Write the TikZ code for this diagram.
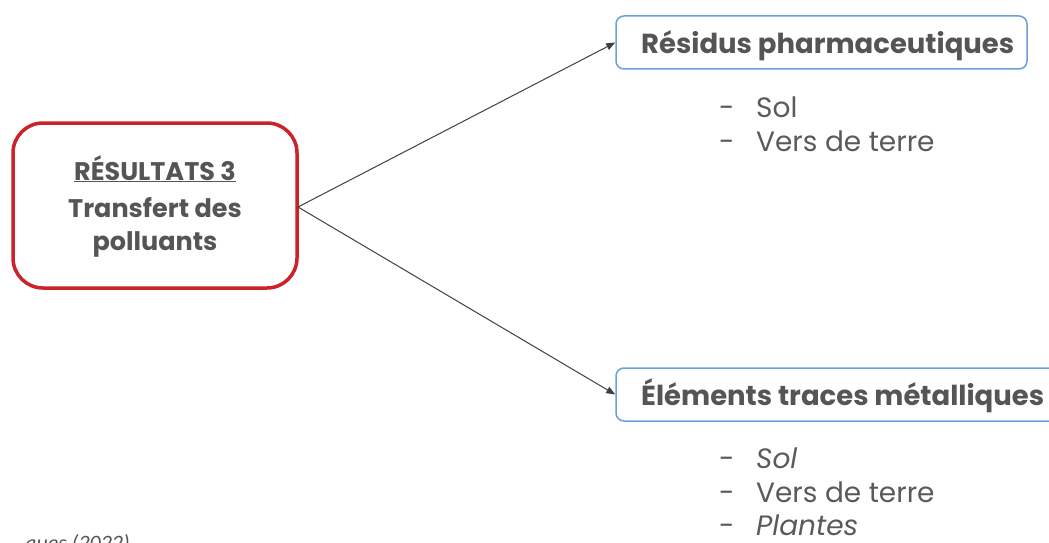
\documentclass[tikz,border=0pt]{standalone}
\usepackage{fontspec}
\setmainfont{Poppins}
\newfontfamily\notefont{Carlito}
\usetikzlibrary{arrows.meta}
\definecolor{txtgray}{HTML}{555555}
\definecolor{bulgray}{HTML}{5A5A5A}
\definecolor{boxred}{HTML}{CC2229}
\definecolor{boxblue}{HTML}{6A9FD8}
\definecolor{arrgray}{HTML}{404040}
\tikzset{
  mainbox/.style={draw=boxred, line width=3.5pt, rounded corners=30pt, fill=white,
    minimum width=284pt, minimum height=165pt, inner sep=0pt},
  maintxt/.style={text=txtgray, font=\fontsize{25.5}{30}\selectfont\bfseries, anchor=base, inner sep=0pt},
  catbox/.style={draw=boxblue, line width=1.5pt, rounded corners=8pt, fill=white,
    minimum height=53pt, inner sep=0pt},
  cattxt/.style={text=txtgray, font=\fontsize{27.5}{30}\selectfont\bfseries, anchor=base west, inner sep=0pt},
  conn/.style={draw=arrgray, line width=1pt, -{Triangle[length=9pt,width=7pt]}},
  bul/.style={text=bulgray, font=\fontsize{28}{30}\selectfont\itshape, anchor=base west, inner sep=0pt},
  bultxt/.style={text=bulgray, font=\fontsize{28}{30}\selectfont, anchor=base west, inner sep=0pt},
  dashn/.style={text=bulgray, font=\fontsize{28}{30}\selectfont, anchor=base west, inner sep=0pt},
}
\begin{document}
\begin{tikzpicture}[x=1pt,y=-1pt]
\useasboundingbox (0,0) rectangle (1049,543);
\clip (0,0) rectangle (1049,543);
\node[mainbox] (m) at (155,205.5) {};
\node[maintxt] (m1) at (155,180) {\underline{RÉSULTATS 3}};
\node[maintxt] (m2) at (155,217) {Transfert des};
\node[maintxt] (m3) at (155,250) {polluants};
\node[catbox, minimum width=411pt] (r) at (821.5,42.5) {};
\node[cattxt] (rt) at (641,53) {Résidus pharmaceutiques};
\node[catbox, minimum width=460pt] (e) at (846,394.5) {};
\node[cattxt] (et) at (641,405) {Éléments traces métalliques};
\coordinate (src) at (298,207);
\draw[conn] (src) -- (r.west);
\draw[conn] (src) -- (e.west);
% bullets top
\node[dashn] (d1) at (719,117) {-};
\node[bultxt] (b1) at (756,117) {Sol};
\node[dashn] (d2) at (719,151) {-};
\node[bultxt] (b2) at (756,151) {Vers de terre};
% bullets bottom
\node[dashn] (d3) at (719,468) {-};
\node[bul] (b3) at (756,468) {Sol};
\node[dashn] (d4) at (719,502) {-};
\node[bultxt] (b4) at (756,502) {Vers de terre};
\node[dashn] (d5) at (719,535) {-};
\node[bul] (b5) at (756,535) {Plantes};
% cut-off note
\node[anchor=base east, text=txtgray, font=\notefont\fontsize{22}{26}\selectfont\itshape, inner sep=0pt] (note) at (130,550) {ques (2022)};
\end{tikzpicture}
\end{document}
